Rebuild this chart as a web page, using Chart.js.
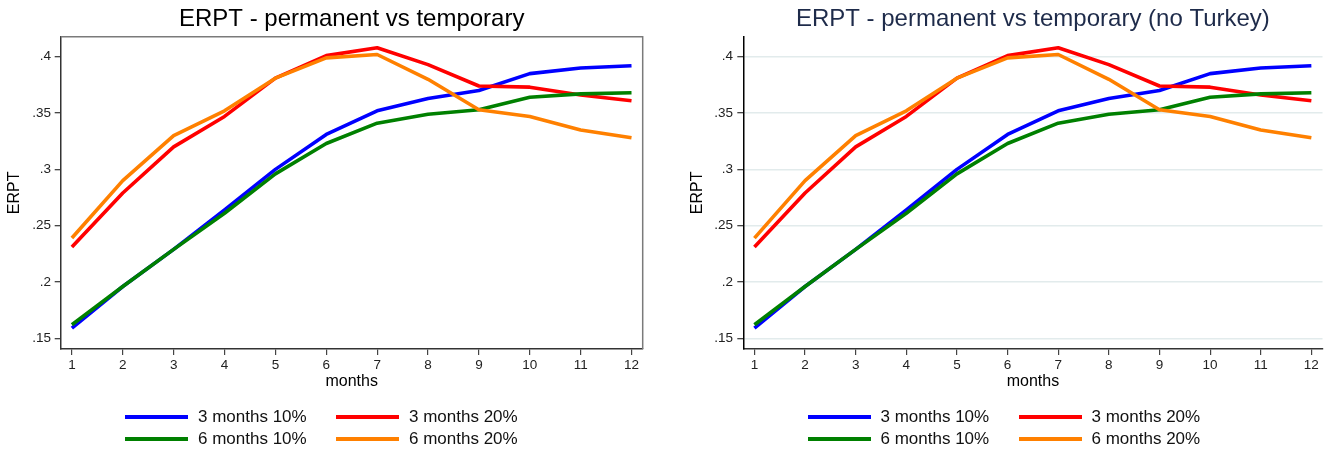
<!DOCTYPE html>
<html>
<head>
<meta charset="utf-8">
<script src="https://cdn.jsdelivr.net/npm/chart.js@4.4.1/dist/chart.umd.min.js"></script>
<style>
    body { margin: 0; background: #fff; }
    #wrap { position: relative; width: 1338px; height: 455px; }
    canvas { position: absolute; top: 0; }
    .legend {
        position: absolute;
        top: 405.4px;
        display: grid;
        grid-template-columns: 211px auto;
        font-family: "Liberation Sans", Arial, sans-serif;
        font-size: 17px;
        color: #111;
    }
    .legend-item { display: flex; align-items: center; height: 22.6px; }
    .legend-item .swatch { width: 63px; height: 4px; margin-right: 10px; }
</style>
</head>
<body>
<div id="wrap">
    <canvas id="leftChart" width="669" height="455" style="left:0"></canvas>
    <canvas id="rightChart" width="669" height="455" style="left:669px"></canvas>
    <div class="legend" id="leftLegend" style="left:125px"></div>
    <div class="legend" id="rightLegend" style="left:807.5px"></div>
</div>
<script>
// ================= Data =================
const months = [1, 2, 3, 4, 5, 6, 7, 8, 9, 10, 11, 12];
const yTicks = [0.15, 0.2, 0.25, 0.3, 0.35, 0.4];

const seriesLabels = ["3 months 10%", "3 months 20%", "6 months 10%", "6 months 20%"];
const seriesColors = ["#0000ff", "#ff0000", "#008000", "#ff8000"];

const threeMonths10 = [0.159, 0.196, 0.229, 0.264, 0.300, 0.331, 0.352, 0.363, 0.370, 0.385, 0.390, 0.392];
const threeMonths20 = [0.231, 0.279, 0.320, 0.347, 0.381, 0.401, 0.408, 0.393, 0.374, 0.373, 0.366, 0.361];
const sixMonths10 = [0.162, 0.196, 0.229, 0.261, 0.296, 0.323, 0.341, 0.349, 0.353, 0.364, 0.367, 0.368];
const sixMonths20 = [0.239, 0.290, 0.330, 0.352, 0.381, 0.399, 0.402, 0.380, 0.353, 0.347, 0.335, 0.328];

// same estimates read off the "no Turkey" panel
const noTurkey3m10 = [0.159, 0.196, 0.229, 0.264, 0.300, 0.331, 0.352, 0.363, 0.370, 0.385, 0.390, 0.392];
const noTurkey3m20 = [0.231, 0.279, 0.320, 0.347, 0.381, 0.401, 0.408, 0.393, 0.374, 0.373, 0.366, 0.361];
const noTurkey6m10 = [0.162, 0.196, 0.229, 0.261, 0.296, 0.323, 0.341, 0.349, 0.353, 0.364, 0.367, 0.368];
const noTurkey6m20 = [0.239, 0.290, 0.330, 0.352, 0.381, 0.399, 0.402, 0.380, 0.353, 0.347, 0.335, 0.328];

const FONT = "'Liberation Sans', Arial, sans-serif";

// ================= Helpers =================
function makeDatasets(seriesList) {
    return seriesList.map((values, i) => ({
        label: seriesLabels[i],
        data: months.map((m, j) => ({ x: m, y: values[j] })),
        borderColor: seriesColors[i],
        backgroundColor: seriesColors[i],
        borderWidth: 3.6,
        pointRadius: 0,
        tension: 0,
        borderJoinStyle: "round",
        order: seriesList.length - i // later series drawn on top
    }));
}

function fmtTick(value) {
    return String(Number(value.toFixed(2))).replace(/^0/, "");
}

// top + right frame of the left panel
const plotBox = {
    id: "plotBox",
    beforeDatasetsDraw(chart, args, opts) {
        if (!opts.draw) return;
        const { ctx, chartArea: a } = chart;
        ctx.save();
        ctx.strokeStyle = "#7a7a7a";
        ctx.lineWidth = 1.5;
        ctx.beginPath();
        ctx.moveTo(a.left, a.top);
        ctx.lineTo(a.right, a.top);
        ctx.lineTo(a.right, a.bottom);
        ctx.stroke();
        ctx.restore();
    }
};

function buildChart(canvasId, title, seriesList, cfg) {
    return new Chart(document.getElementById(canvasId), {
        type: "line",
        data: { datasets: makeDatasets(seriesList) },
        plugins: [plotBox],
        options: {
            responsive: false,
            animation: false,
            layout: {
                padding: { left: cfg.padLeft, right: cfg.padRight, top: 0, bottom: 63.7 }
            },
            plugins: {
                legend: { display: false },
                tooltip: { enabled: false },
                plotBox: { draw: cfg.box },
                title: {
                    display: true,
                    text: title,
                    fullSize: false,
                    color: cfg.titleColor,
                    font: { family: FONT, size: 24, weight: "normal" },
                    padding: { top: 5.3, bottom: 2.6 }
                }
            },
            scales: {
                x: {
                    type: "linear",
                    min: 0.78,
                    max: 12.22,
                    afterBuildTicks: s => { s.ticks = months.map(v => ({ value: v })); },
                    afterFit: s => { s.height = 42.3; },
                    ticks: {
                        color: "#222",
                        padding: 2,
                        maxRotation: 0,
                        autoSkip: false,
                        font: { family: FONT, size: 13.5 }
                    },
                    grid: {
                        drawOnChartArea: false,
                        tickLength: 6,
                        color: "#444",
                        lineWidth: 1.2
                    },
                    border: { color: "#333", width: 1.5 },
                    title: {
                        display: true,
                        text: "months",
                        color: "#000",
                        padding: 0,
                        font: { family: FONT, size: 16 }
                    }
                },
                y: {
                    min: 0.1405,
                    max: 0.4178,
                    afterBuildTicks: s => { s.ticks = yTicks.map(v => ({ value: v })); },
                    afterFit: s => { s.width = 60.7; },
                    ticks: {
                        color: "#222",
                        padding: cfg.tickPad,
                        font: { family: FONT, size: 13.5 },
                        callback: v => fmtTick(v)
                    },
                    grid: {
                        drawOnChartArea: cfg.grid,
                        color: "#e2ebec",
                        lineWidth: 1.4,
                        tickLength: 6,
                        tickColor: "#333",
                        tickWidth: 1.2
                    },
                    border: { color: cfg.yBorder, width: 1.5 },
                    title: {
                        display: true,
                        text: "ERPT",
                        color: "#000",
                        padding: { top: 5.4, bottom: 0 },
                        font: { family: FONT, size: 16 }
                    }
                }
            }
        }
    });
}

// ================= Charts =================
buildChart("leftChart", "ERPT - permanent vs temporary",
    [threeMonths10, threeMonths20, sixMonths10, sixMonths20],
    { padLeft: 0, padRight: 26.3, box: true, grid: false, titleColor: "#000", yBorder: "#333", tickPad: 3.7 });

buildChart("rightChart", "ERPT - permanent vs temporary (no Turkey)",
    [noTurkey3m10, noTurkey3m20, noTurkey6m10, noTurkey6m20],
    { padLeft: 13.6, padRight: 15.5, box: false, grid: true, titleColor: "#1e2b4a", yBorder: "#000", tickPad: 4.3 });

// ================= Legends =================
function buildLegend(id) {
    const el = document.getElementById(id);
    seriesLabels.forEach((label, i) => {
        const item = document.createElement("div");
        item.className = "legend-item";
        const sw = document.createElement("span");
        sw.className = "swatch";
        sw.style.background = seriesColors[i];
        const txt = document.createElement("span");
        txt.textContent = label;
        item.appendChild(sw);
        item.appendChild(txt);
        el.appendChild(item);
    });
}
buildLegend("leftLegend");
buildLegend("rightLegend");
</script>
</body>
</html>
